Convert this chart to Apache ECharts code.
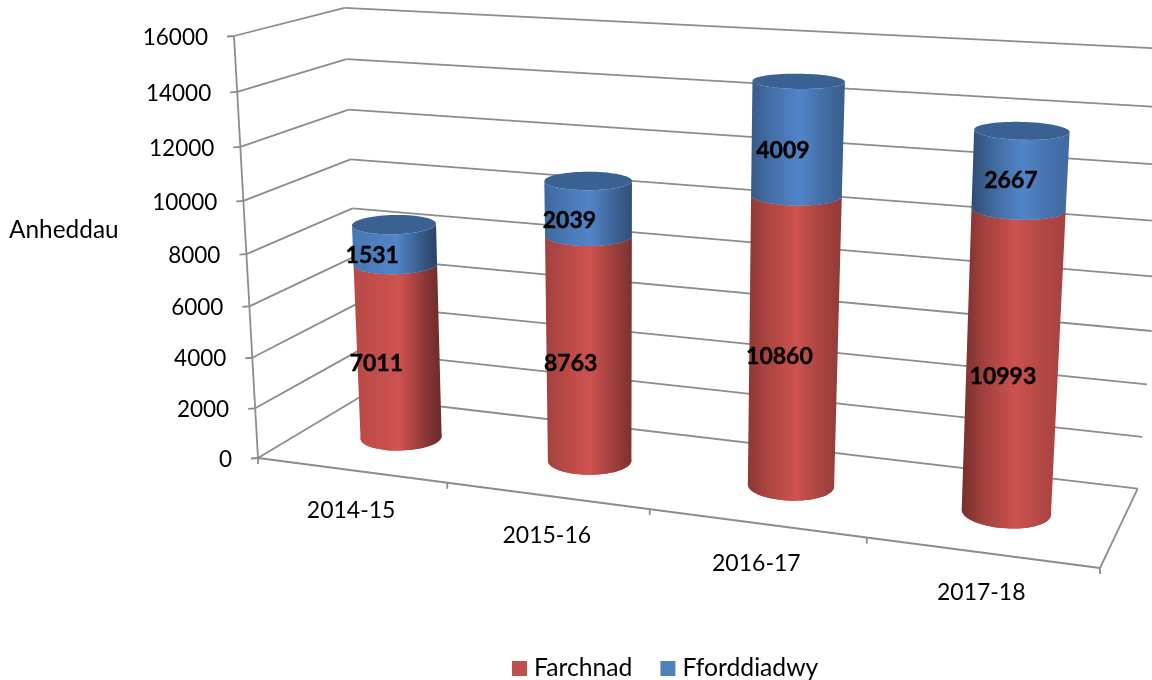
<!DOCTYPE html>
<html><head><meta charset="utf-8">
<style>html,body{margin:0;padding:0;background:#fff}#c{width:1152px;height:680px}</style>
<script src="https://cdn.jsdelivr.net/npm/echarts@6/dist/echarts.min.js"></script>
</head><body><div id="c"></div>
<script>
const categories = ['2014-15','2015-16','2016-17','2017-18'];
const farchnad = [7011,8763,10860,10993];
const fforddiadwy = [1531,2039,4009,2667];
const yTicks = [0,2000,4000,6000,8000,10000,12000,14000,16000];

// Projective view of the chart box: unit cube (u along categories, v up the value axis, w into depth)
const O=[258,458],U=[1100,568],V=[234,36],W=[360,397];
const gu=-0.13,gv=-0.065,gw=0.089;
function proj(u,v,w){
  const d=1+gu*u+gv*v+gw*w;
  return [0,1].map(k=>(O[k]+u*(U[k]*(1+gu)-O[k])+v*(V[k]*(1+gv)-O[k])+w*(W[k]*(1+gw)-O[k]))/d);
}
function unit(params,api,cat,val){
  const r=params.coordSys,p=api.coord([cat,val]);
  return [(p[0]-r.x)/r.width,(r.y+r.height-p[1])/r.height];
}
const FONT='Lato, "Open Sans", sans-serif', GRID='#8c8c8c', RU=0.0445, RW=0.2, WC=0.5, N=72;
const line=(a,b)=>({type:'line',shape:{x1:a[0],y1:a[1],x2:b[0],y2:b[1]},style:{stroke:GRID,lineWidth:1.8}});
const text=(s,x,y,align,size,weight,stroke)=>({type:'text',x,y,style:{text:s,x:0,y:0,align,verticalAlign:'middle',font:`${weight||400} ${size}px ${FONT}`,fill:'#000',stroke:stroke?'#000':null,lineWidth:stroke||0}});

function renderY(params,api){
  const v=unit(params,api,0,api.value(0))[1];
  const a=proj(0,v,0),b=proj(0,v,1),c=proj(1,v,1);
  return {type:'group',children:[
    line(a,b),line(b,c),line([a[0]-7,a[1]+0.5],a),
    text(String(api.value(0)),a[0]-26,a[1]+1.5,'right',22.5)
  ]};
}
function renderX(params,api){
  const i=api.value(0), u=unit(params,api,i,0)[0], half=api.size([1,0])[0]/params.coordSys.width/2;
  const e=proj(u+half,0,0), m=proj(u,0,0);
  const kids=[line(e,[e[0],e[1]+6]),text(categories[i],m[0],m[1]+40,'center',23)];
  if(i===0){
    const o=proj(0,0,0),x=proj(1,0,0),w=proj(0,0,1),r=proj(1,0,1),t=proj(0,1,0);
    kids.push(line(o,x),line(x,r),line(o,[o[0],o[1]+6]),line(o,t));
  }
  return {type:'group',children:kids};
}
const lean=(v,i)=>-v*1.3*i*i;
function ring(u,v,i){
  const c=proj(u,v,WC),a=proj(u+RU,v,WC),a2=proj(u-RU,v,WC),b=proj(u,v,WC+RW),b2=proj(u,v,WC-RW);
  const ax=(a[0]-a2[0])/2, ay=(a[1]-a2[1])/2, by=(b2[1]-b[1])/2;
  const hr=(22+0.57*ax)*(1+0.04*v), vr=Math.sqrt(ay*ay+by*by), s=(-0.03+0.028*i)*(1-0.6*v);
  const pts=[];
  for(let k=0;k<N;k++){
    const t=k/N*2*Math.PI, h=hr*Math.cos(t);
    pts.push([c[0]+lean(v,i)+h,c[1]+h*s-vr*Math.sin(t)]);
  }
  return pts;
}
function frontArc(pts){
  let iL=0,iR=0;
  pts.forEach((p,k)=>{if(p[0]<pts[iL][0])iL=k;if(p[0]>pts[iR][0])iR=k;});
  const out=[];let k=iL;
  while(true){out.push(pts[k]);if(k===iR)break;k=(k+1)%N;}
  return out;
}
function mix(c,f){return 'rgb('+c.map(x=>Math.min(255,Math.round(x*f))).join(',')+')';}
function cylinder(base,capped){
  return function(params,api){
    const i=api.value(0),u=unit(params,api,i,0)[0];
    const v0=unit(params,api,i,api.value(1))[1],v1=unit(params,api,i,api.value(2))[1];
    const bot=ring(u,v0,i),top=ring(u,v1,i);
    const body=frontArc(bot).concat(frontArc(top).reverse());
    const lf=0.92-0.11*i, rf=0.52+0.10*i;
    const fill=new echarts.graphic.LinearGradient(0,0,1,0,[
      {offset:0,color:mix(base,lf)},{offset:0.2,color:mix(base,0.5*lf+0.5)},
      {offset:0.52,color:mix(base,1.03)},{offset:0.78,color:mix(base,0.5*rf+0.48)},
      {offset:1,color:mix(base,rf)}]);
    const kids=[
      {type:'polygon',shape:{points:bot},style:{fill:mix(base,0.95)}},
      {type:'polygon',shape:{points:body},style:{fill}}
    ];
    if(capped) kids.push({type:'polygon',shape:{points:top},style:{fill:mix(base,0.75)}});
    const vm=(v0+v1)/2, m=proj(u,vm,0.25);
    const dy=-2-1.5*i+7*vm-(i===0?2:0);
    kids.push(text(String(api.value(3)),m[0]+3+lean(vm,i),m[1]+dy,'center',23,700,0.4));
    return {type:'group',children:kids};
  };
}
const RED=[200,80,77], BLUE=[79,129,195];
const chart=echarts.init(document.getElementById('c'),null,{renderer:'canvas'});
chart.setOption({
  animation:false,
  backgroundColor:'#fff',
  grid:{left:100,top:100,width:800,height:400,show:false},
  xAxis:{type:'category',data:categories,show:false},
  yAxis:{type:'value',min:0,max:16000,interval:2000,show:false},
  legend:{data:['Farchnad','Fforddiadwy'],left:507,top:651,icon:'rect',itemWidth:15,itemHeight:15,itemGap:28,
    textStyle:{fontFamily:'Lato',fontSize:24.7,color:'#000',padding:[0,0,0,2]}},
  graphic:[{type:'text',left:9,top:218,style:{text:'Anheddau',font:`400 24.4px ${FONT}`,fill:'#000'}}],
  series:[
    {type:'custom',name:'y-axis',z:1,silent:true,data:yTicks.map(t=>[t]),encode:{y:0},renderItem:renderY},
    {type:'custom',name:'x-axis',z:1,silent:true,data:categories.map((c,i)=>[i]),encode:{x:0},renderItem:renderX},
    {type:'custom',name:'Farchnad',z:3,itemStyle:{color:'#C0504D'},
      data:farchnad.map((m,i)=>[i,0,m,m]),encode:{x:0,y:[1,2]},renderItem:cylinder(RED,false)},
    {type:'custom',name:'Fforddiadwy',z:4,itemStyle:{color:'#4F81BD'},
      data:fforddiadwy.map((a,i)=>[i,farchnad[i],farchnad[i]+a,a]),encode:{x:0,y:[1,2]},renderItem:cylinder(BLUE,true)}
  ]
});
</script></body></html>
